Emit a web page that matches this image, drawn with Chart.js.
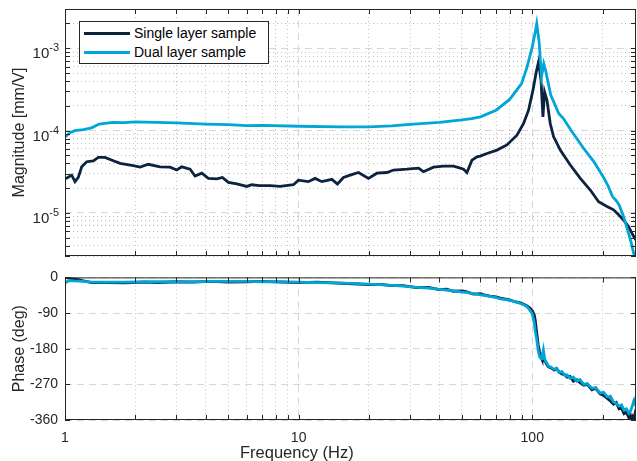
<!DOCTYPE html>
<html>
<head>
    <meta charset="utf-8">
    <title>Frequency response</title>
    <style>
        body {
            margin: 0;
            background: #fff;
            font-family: "Liberation Sans", Arial, sans-serif;
        }
        .wrap {
            position: relative;
            width: 637px;
            height: 461px;
            overflow: hidden;
        }
        #mag-box, #phase-box {
            position: absolute;
            left: 0;
        }
        #mag-box { top: 0; }
        #phase-box { top: 262px; }
        #legend {
            position: absolute;
            left: 79px;
            top: 21px;
            width: 188px;
            height: 41px;
            border: 1px solid #262626;
            background: #fff;
            font-size: 14px;
            color: #000;
        }
        #legend .row {
            position: absolute;
            left: 4px;
            height: 16px;
            display: flex;
            align-items: center;
            white-space: nowrap;
        }
        #legend .line {
            display: inline-block;
            width: 46px;
            height: 3px;
            margin-right: 4px;
        }
        #xlabel {
            position: absolute;
            left: 240px;
            top: 444px;
            font-size: 16.5px;
            line-height: 1;
            color: #262626;
            white-space: nowrap;
        }
    </style>
</head>
<body>
    <div class="wrap">
        <div id="mag-box"><canvas id="mag" width="637" height="262"></canvas></div>
        <div id="phase-box"><canvas id="phase" width="637" height="199"></canvas></div>
        <div id="legend"></div>
        <div id="xlabel"></div>
    </div>

    <script src="https://cdn.jsdelivr.net/npm/chart.js"></script>
    <script>
        const seriesNames = ['Single layer sample', 'Dual layer sample'];
        const seriesColors = ['#0c2340', '#00a6d6'];

        // magnitude, single layer (Hz, mm/V)
        const freqSingleMag = [1, 1.017, 1.068, 1.104, 1.14, 1.179, 1.239, 1.322, 1.389, 1.483, 1.61, 1.72, 1.96, 2.096, 2.274, 2.552, 2.817, 3.008, 3.16, 3.43, 3.604, 3.849, 4.11, 4.465, 4.718, 5.006, 5.437, 6.0, 6.303, 6.794, 7.55, 8.333, 9.5, 9.98, 11.0, 11.77, 12.57, 13.88, 14.66, 15.56, 16.62, 18.04, 19.9, 21.63, 23.86, 25.47, 29.07, 32.6, 34.23, 37.78, 41.7, 46.03, 49.2, 50.8, 52.53, 55.2, 57.98, 59.9, 63.97, 70.6, 77.9, 86.0, 91.8, 96.4, 100.7, 104.0, 106.4, 109.0, 111.1, 112.9, 115.6, 119.4, 123.4, 125.4, 131.8, 145.5, 160.6, 177.2, 192.3, 208.9, 222.9, 234.2, 246.0, 258.5, 271.5, 278];
        const magSingle = [2.63e-5, 2.65e-5, 2.88e-5, 2.4e-5, 2.7e-5, 3.63e-5, 4.19e-5, 4.3e-5, 4.73e-5, 4.73e-5, 4.3e-5, 4.0e-5, 3.75e-5, 3.6e-5, 3.9e-5, 3.63e-5, 3.6e-5, 3.32e-5, 3.63e-5, 3.4e-5, 2.81e-5, 3.04e-5, 2.63e-5, 2.6e-5, 2.7e-5, 2.35e-5, 2.25e-5, 2.1e-5, 2.2e-5, 2.15e-5, 2.15e-5, 2.1e-5, 2.2e-5, 2.5e-5, 2.4e-5, 2.63e-5, 2.4e-5, 2.56e-5, 2.25e-5, 2.7e-5, 2.88e-5, 3.1e-5, 2.63e-5, 3.04e-5, 3.1e-5, 3.32e-5, 3.4e-5, 3.5e-5, 3.17e-5, 3.6e-5, 3.7e-5, 3.7e-5, 3.5e-5, 3.4e-5, 3.1e-5, 4.38e-5, 4.8e-5, 4.9e-5, 5.28e-5, 5.8e-5, 6.7e-5, 8.8e-5, 1.22e-4, 1.77e-4, 3.1e-4, 5.16e-4, 6.8e-4, 4.1e-4, 1.47e-4, 2.95e-4, 2.34e-4, 1.22e-4, 8.4e-5, 7.7e-5, 5.8e-5, 3.82e-5, 2.63e-5, 1.9e-5, 1.37e-5, 1.2e-5, 1.09e-5, 9.5e-6, 8.2e-6, 6.8e-6, 5.2e-6, 4.7e-6];

        // magnitude, dual layer
        const freqDualMag = [1, 1.05, 1.1, 1.2, 1.3, 1.4, 1.6, 1.8, 2, 3, 4, 5, 6, 7, 10, 15, 20, 25, 30, 40, 50, 55, 60, 70, 80, 90, 95, 100, 103, 104.5, 107, 109.5, 112, 114, 120, 130, 136, 148, 165.8, 183.4, 202, 211.6, 220.5, 228, 235.4, 246, 256, 265.4, 273.5];
        const magDual = [8.4e-5, 9.4e-5, 1.0e-4, 1.03e-4, 1.08e-4, 1.2e-4, 1.26e-4, 1.25e-4, 1.28e-4, 1.245e-4, 1.2e-4, 1.18e-4, 1.15e-4, 1.16e-4, 1.13e-4, 1.11e-4, 1.11e-4, 1.14e-4, 1.19e-4, 1.26e-4, 1.35e-4, 1.4e-4, 1.47e-4, 1.77e-4, 2.39e-4, 3.73e-4, 5.9e-4, 1.04e-3, 1.58e-3, 2.0e-3, 1.2e-3, 4.5e-4, 6.5e-4, 5.4e-4, 2.7e-4, 1.6e-4, 1.4e-4, 9.7e-5, 6.1e-5, 4.2e-5, 2.7e-5, 2.1e-5, 1.58e-5, 1.43e-5, 1.25e-5, 9.0e-6, 6.2e-6, 4.3e-6, 3.0e-6];

        // phase (deg), both samples on the same frequencies
        const freqPhase = [1, 1.04, 1.1, 1.2, 1.3, 1.5, 1.8, 2.2, 2.5, 3, 3.5, 4.2, 5, 6, 7, 8.5, 10, 12, 14, 17, 20, 23, 25, 28, 32, 36, 40, 43, 46, 50, 52, 56, 60, 63, 66, 70, 73, 77, 80, 85, 89, 92, 95, 98,
            100, 102, 103, 104, 105, 106, 107.5, 109, 110, 111.6, 113, 114, 116, 117, 120, 124, 127, 130, 134, 138, 141, 145, 150, 155, 160, 166, 172, 180, 187, 195, 202, 210, 216, 223, 229, 235, 241, 247, 253, 259, 263, 266, 269, 272, 275, 278];
        const phaseSingle = [0, -2, -4, -9, -13, -13, -14, -12, -13, -11, -12, -10, -12, -11, -10, -12, -13, -12, -14, -16, -18, -18, -21, -21, -26, -25, -31, -30, -35, -34, -36, -42, -41, -45, -47, -49, -52, -55, -57, -62, -64, -68, -72, -78,
            -84, -95, -108, -130, -150, -170, -188, -200, -206, -210, -208, -214, -222, -226, -228, -234, -230, -238, -244, -246, -252, -250, -262, -258, -266, -272, -270, -284, -280, -294, -298, -306, -312, -320, -316, -332, -330, -344, -340, -354, -348, -360, -352, -358, -345, -355];
        const phaseDual = [-14, -8, -9, -10, -12, -12, -12, -11, -11, -11, -11, -10, -10, -10, -11, -11, -12, -13, -14, -15, -17, -19, -20, -22, -25, -27, -30, -32, -34, -37, -38, -41, -44, -46, -48, -51, -54, -56, -58, -62, -66, -69, -74, -84,
            -92, -115, -135, -150, -165, -185, -200, -205, -202, -183, -205, -212, -218, -224, -226, -232, -230, -240, -238, -248, -246, -255, -252, -262, -258, -270, -268, -280, -278, -292, -290, -302, -300, -315, -318, -325, -322, -335, -332, -343, -338, -330, -322, -312, -318, -300];

        const magTicksExp = [-5, -4, -3];
        const phaseTicks = [0, -90, -180, -270, -360];
        const freqTicks = [1, 10, 100];
        const xTitle = 'Frequency (Hz)';

        const FONT = '"Liberation Sans", Arial, sans-serif';
        const AXIS = '#262626';
        Chart.defaults.font.family = FONT;
        Chart.defaults.color = AXIS;

        // legend and x label
        const legend = document.getElementById('legend');
        seriesNames.forEach((name, i) => {
            const row = document.createElement('div');
            row.className = 'row';
            row.style.top = (3 + i * 19) + 'px';
            row.innerHTML = '<span class="line" style="background:' + seriesColors[i] + '"></span><span>' + name + '</span>';
            legend.appendChild(row);
        });
        document.getElementById('xlabel').textContent = xTitle;

        function pts(xs, ys) {
            return xs.map((x, i) => ({ x: x, y: ys[i] }));
        }

        function isDecade(v) {
            const e = Math.log10(v);
            return Math.abs(e - Math.round(e)) < 1e-6;
        }

        // keep only 1..9 x 10^n ticks (drop the 15/150 and the end value)
        function keepIntTicks(scale) {
            scale.ticks = scale.ticks.filter(t => {
                const m = t.value / Math.pow(10, Math.floor(Math.log10(t.value) + 1e-9));
                return Math.abs(m - Math.round(m)) < 1e-6;
            });
        }

        function gridColor(major) {
            return ctx => (ctx.tick && major(ctx.tick.value)) ? '#d6d6d6' : '#c2c2c2';
        }
        function gridDash(major) {
            return ctx => (ctx.tick && major(ctx.tick.value)) ? [7, 5] : [1, 3];
        }

        // box round the axes with inward tick marks
        const frame = {
            id: 'frame',
            afterDraw(chart) {
                const { ctx, chartArea: a, scales } = chart;
                ctx.save();
                ctx.strokeStyle = AXIS;
                ctx.lineWidth = 1;
                ctx.beginPath();
                scales.x.ticks.forEach(t => {
                    const px = Math.round(scales.x.getPixelForValue(t.value)) + 0.5;
                    ctx.moveTo(px, a.top); ctx.lineTo(px, a.top + 5);
                    ctx.moveTo(px, a.bottom); ctx.lineTo(px, a.bottom - 5);
                });
                scales.y.ticks.forEach(t => {
                    const py = Math.round(scales.y.getPixelForValue(t.value)) + 0.5;
                    ctx.moveTo(a.left, py); ctx.lineTo(a.left + 5, py);
                    ctx.moveTo(a.right, py); ctx.lineTo(a.right - 5, py);
                });
                ctx.stroke();
                ctx.strokeRect(a.left + 0.5, a.top + 0.5, a.width - 1, a.height - 1);
                ctx.restore();
            }
        };

        // 10^n labels on the magnitude axis
        const powLabels = {
            id: 'powLabels',
            afterDraw(chart) {
                const y = chart.scales.y;
                const ctx = chart.ctx;
                ctx.save();
                ctx.fillStyle = AXIS;
                ctx.textAlign = 'right';
                ctx.textBaseline = 'alphabetic';
                magTicksExp.forEach(e => {
                    const py = y.getPixelForValue(Math.pow(10, e));
                    const exp = String(e);
                    ctx.font = '11px ' + FONT;
                    const w = ctx.measureText(exp).width;
                    ctx.fillText(exp, 59, py + 3);
                    ctx.font = '15px ' + FONT;
                    ctx.fillText('10', 59 - w, py + 10);
                });
                ctx.restore();
            }
        };

        const freqScale = (showLabels) => ({
            type: 'logarithmic',
            min: 1,
            max: 278,
            afterBuildTicks: keepIntTicks,
            afterFit: s => { s.height = showLabels ? 41 : 6; },
            grid: { color: gridColor(isDecade), drawTicks: false },
            border: { display: false, dash: gridDash(isDecade) },
            ticks: {
                display: showLabels,
                autoSkip: false,
                maxRotation: 0,
                padding: 10,
                font: { size: 14 },
                callback: v => freqTicks.includes(v) ? String(v) : ''
            }
        });

        function lineSet(i, data, order) {
            return {
                label: seriesNames[i],
                data: data,
                borderColor: seriesColors[i],
                backgroundColor: seriesColors[i],
                borderWidth: 2.8,
                pointRadius: 0,
                tension: 0,
                order: order
            };
        }

        new Chart(document.getElementById('mag'), {
            type: 'line',
            data: {
                datasets: [
                    lineSet(0, pts(freqSingleMag, magSingle), 1),
                    lineSet(1, pts(freqDualMag, magDual), 0)
                ]
            },
            options: {
                responsive: false,
                animation: false,
                layout: { padding: { left: 0, right: 1, top: 9, bottom: 0 } },
                plugins: { legend: { display: false }, tooltip: { enabled: false } },
                scales: {
                    x: freqScale(false),
                    y: {
                        type: 'logarithmic',
                        min: 3e-6,
                        max: 3e-3,
                        afterBuildTicks: keepIntTicks,
                        afterFit: s => { s.width = 65; },
                        grid: { color: gridColor(isDecade), drawTicks: false },
                        border: { display: false, dash: gridDash(isDecade) },
                        ticks: { display: false },
                        title: {
                            display: true,
                            text: 'Magnitude [mm/V]',
                            font: { size: 16 },
                            padding: { top: 10, bottom: 0 }
                        }
                    }
                }
            },
            plugins: [frame, powLabels]
        });

        const isPhaseMajor = v => v % 90 === 0;

        new Chart(document.getElementById('phase'), {
            type: 'line',
            data: {
                datasets: [
                    lineSet(0, pts(freqPhase, phaseSingle), 1),
                    lineSet(1, pts(freqPhase, phaseDual), 0)
                ]
            },
            options: {
                responsive: false,
                animation: false,
                layout: { padding: { left: 0, right: 1, top: 5, bottom: 0 } },
                plugins: { legend: { display: false }, tooltip: { enabled: false } },
                scales: {
                    x: freqScale(true),
                    y: {
                        type: 'linear',
                        min: -360,
                        max: 0,
                        afterFit: s => { s.width = 65; },
                        grid: { color: gridColor(isPhaseMajor), drawTicks: false },
                        border: { display: false, dash: gridDash(isPhaseMajor) },
                        ticks: {
                            stepSize: 45,
                            padding: 7,
                            font: { size: 14 },
                            callback: v => phaseTicks.includes(v) ? String(v) : ''
                        },
                        title: {
                            display: true,
                            text: 'Phase (deg)',
                            font: { size: 16 },
                            padding: { top: 10, bottom: 0 }
                        }
                    }
                }
            },
            plugins: [frame]
        });
    </script>
</body>
</html>
